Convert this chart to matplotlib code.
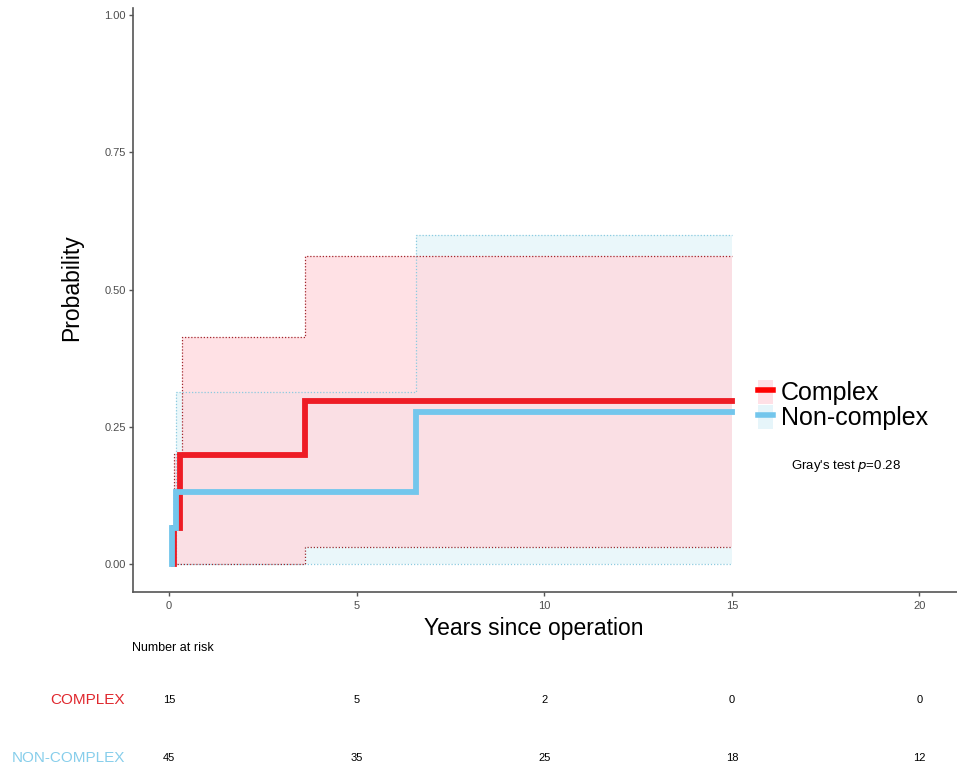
import matplotlib
matplotlib.use("Agg")
import matplotlib.pyplot as plt
from matplotlib.patches import Patch
from matplotlib.lines import Line2D
from matplotlib.transforms import blended_transform_factory

plt.rcParams['font.family'] = ['Liberation Sans', 'DejaVu Sans']

# ---- data ----
groups = ["Complex", "Non-complex"]
complex_t = [0.12, 0.12, 0.30, 3.62, 15]
complex_p = [0, 0.066, 0.199, 0.297, 0.297]
noncomplex_t = [0.08, 0.08, 0.19, 6.57, 15]
noncomplex_p = [0, 0.066, 0.131, 0.277, 0.277]

complex_ci_t = [0.12, 0.35, 3.62, 15]
complex_lo = [0, 0, 0.031, 0.031]
complex_hi = [0.200, 0.413, 0.561, 0.561]
noncomplex_ci_t = [0.19, 6.57, 15]
noncomplex_lo = [0, 0, 0]
noncomplex_hi = [0.313, 0.599, 0.599]

risk_times = [0, 5, 10, 15, 20]
risk_complex = [15, 5, 2, 0, 0]
risk_noncomplex = [45, 35, 25, 18, 12]
risk_labels = ["COMPLEX", "NON-COMPLEX"]

x_ticks = [0, 5, 10, 15, 20]
y_ticks = [0.00, 0.25, 0.50, 0.75, 1.00]
p_text = "Gray's test $\\it{p}$=0.28"

# ---- style ----
RED = "#EE1C25"
BLUE = "#73C6EC"
RED_FILL = (1.0, 218 / 255, 223 / 255, 0.8)
BLUE_FILL = (234 / 255, 247 / 255, 250 / 255, 1.0)
RED_DOT = "#A0282E"
BLUE_DOT = "#8CCBE0"
DOTS = (0, (1, 1.5))

W, H = 957, 770
fig = plt.figure(figsize=(W / 100, H / 100), dpi=100)
ax = fig.add_axes([133 / W, 1 - 592 / H, 1 - 133 / W, (592 - 8) / H])
ax.set_xlim(-0.96, 21)
ax.set_ylim(-0.051, 1.0128)

ax.fill_between(noncomplex_ci_t, noncomplex_lo, noncomplex_hi, step='post', color=BLUE_FILL, lw=0)
ax.fill_between(complex_ci_t, complex_lo, complex_hi, step='post', color=RED_FILL, lw=0)

def ci_border(t, lo, hi, dot):
    ax.step([t[0]] + list(t), [lo[0]] + list(hi), where='post', color=dot, lw=0.9, ls=DOTS)
    ax.step(t, lo, where='post', color=dot, lw=0.9, ls=DOTS)

ci_border(noncomplex_ci_t, noncomplex_lo, noncomplex_hi, BLUE_DOT)
ci_border(complex_ci_t, complex_lo, complex_hi, RED_DOT)

ax.step(complex_t, complex_p, where='post', color=RED, lw=4.2, solid_joinstyle='miter')
ax.step(noncomplex_t, noncomplex_p, where='post', color=BLUE, lw=4.2, solid_joinstyle='miter')

for s in ['top', 'right']:
    ax.spines[s].set_visible(False)
for s in ['left', 'bottom']:
    ax.spines[s].set_color('#555555')
    ax.spines[s].set_linewidth(1.2)
ax.set_xticks(x_ticks)
ax.set_xticklabels([str(v) for v in x_ticks])
ax.set_yticks(y_ticks)
ax.set_yticklabels([f"{v:.2f}" for v in y_ticks])
ax.tick_params(colors='#555555', labelcolor='#4D4D4D', labelsize=8, length=3, width=1)
ax.tick_params(axis='y', pad=2)
ax.set_xlabel("Years since operation", fontsize=16.5)
ax.set_ylabel("Probability", fontsize=16.5)
ax.xaxis.set_label_coords((534 - 133) / 824, (592 - 628) / 584, transform=ax.transAxes)
ax.xaxis.label.set_va('center')
ax.yaxis.set_label_coords((72 - 133) / 824, (592 - 288) / 584, transform=ax.transAxes)
ax.yaxis.label.set_va('center')

# legend
handles = [(Patch(facecolor=(1, 0.88, 0.9), edgecolor='none'), Line2D([], [], color='#FF0000', lw=4)),
           (Patch(facecolor=(0.9, 0.96, 0.98), edgecolor='none'), Line2D([], [], color=BLUE, lw=4))]
fig.legend(handles, groups, loc='center left', bbox_to_anchor=(740 / W, 1 - 405 / H),
           frameon=False, fontsize=18, handlelength=0.6, handletextpad=0.35,
           labelspacing=0.0, borderpad=0.2, handleheight=1.1)

fig.text(846 / W, 1 - 466 / H, p_text, fontsize=9.5, ha='center', va='center')

# risk table
fig.text(132 / W, 1 - 648 / H, "Number at risk", fontsize=9, ha='left', va='center')
tr = blended_transform_factory(ax.transData, fig.transFigure)
rows_y = [1 - 700 / H, 1 - 758 / H]
row_colors = ["#E0282E", "#87CEEB"]
for lab, yy, col, vals in zip(risk_labels, rows_y, row_colors, [risk_complex, risk_noncomplex]):
    fig.text(125 / W, yy, lab, fontsize=11, color=col, ha='right', va='center')
    for t, v in zip(risk_times, vals):
        ax.text(t, yy, str(v), transform=tr, fontsize=8, ha='center', va='center', clip_on=False)

fig.savefig("out.png", dpi=100)
